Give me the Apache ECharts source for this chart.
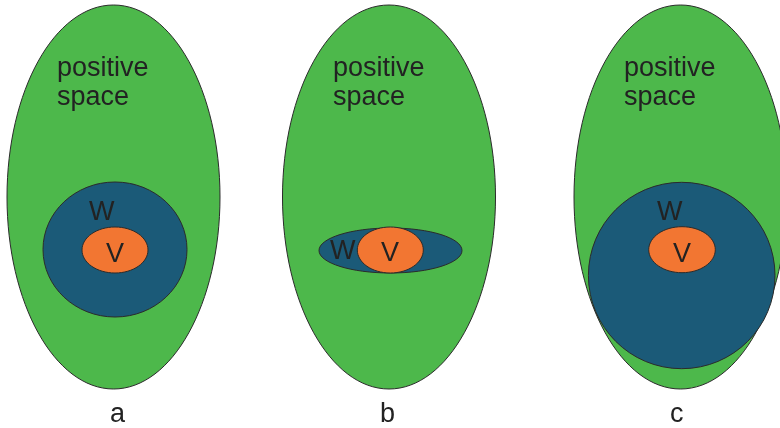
<!DOCTYPE html>
<html>
<head>
<meta charset="utf-8">
<script src="https://cdn.jsdelivr.net/npm/echarts@6/dist/echarts.min.js"></script>
<style>
  html, body { margin: 0; padding: 0; background: #fff; }
  #chart { width: 780px; height: 428px; }
</style>
</head>
<body>
<div id="chart"></div>
<script>
// panels a, b, c
var panelLabels = ['a', 'b', 'c'];
var panelLabelX = [110, 380, 670];
var panelLabelY = [415, 415, 415];

// outer green ellipse (positive space)
var outerCx = [113.5, 389, 680.5];
var outerCy = [197, 197, 197];
var outerRx = [106.5, 106.5, 106.5];
var outerRy = [192, 192, 192];

// W region
var wCx = [115, 390.5, 681.7];
var wCy = [249.5, 250.5, 275.5];
var wRx = [72, 71.5, 93.3];
var wRy = [67.5, 22.5, 93.2];

// V region
var vCx = [115, 390.3, 682];
var vCy = [250, 250, 249.7];
var vRx = [33, 33, 33.3];
var vRy = [23, 23, 23];

// text anchors
var posX = [57, 333, 624];
var posY1 = [69, 69, 69];
var posY2 = [98, 98, 98];
var wLabelX = [89, 330, 657];
var wLabelY = [213, 252, 213];
var vLabelX = [106, 381, 673];
var vLabelY = [255, 254, 255];

var COLORS = {
    green: '#4db84b',
    blue: '#1b5a78',
    orange: '#f27632',
    stroke: '#2b2b2b',
    text: '#222222'
};
var FONT = '27px "Liberation Sans", Arial, sans-serif';

function ellipseData(cx, cy, rx, ry) {
    var d = [];
    for (var i = 0; i < cx.length; i++) d.push([cx[i], cy[i], rx[i], ry[i]]);
    return d;
}
function textData(xs, ys, texts) {
    var d = [];
    for (var i = 0; i < xs.length; i++) d.push([xs[i], ys[i], texts[i]]);
    return d;
}

function makeEllipse(fill, z) {
    return {
        type: 'custom',
        coordinateSystem: 'cartesian2d',
        z: z,
        silent: true,
        renderItem: function (params, api) {
            var c = api.coord([api.value(0), api.value(1)]);
            var s = api.size([api.value(2), api.value(3)]);
            return {
                type: 'ellipse',
                shape: { cx: c[0], cy: c[1], rx: s[0], ry: s[1] },
                style: { fill: fill, stroke: COLORS.stroke, lineWidth: 1 }
            };
        }
    };
}
function makeText(z) {
    return {
        type: 'custom',
        coordinateSystem: 'cartesian2d',
        z: z,
        silent: true,
        renderItem: function (params, api) {
            var c = api.coord([api.value(0), api.value(1)]);
            return {
                type: 'text',
                x: c[0],
                y: c[1],
                style: {
                    text: api.value(2),
                    font: FONT,
                    fill: COLORS.text,
                    align: 'left',
                    verticalAlign: 'middle'
                }
            };
        }
    };
}

var chart = echarts.init(document.getElementById('chart'), null, { renderer: 'canvas' });

var outerSeries = makeEllipse(COLORS.green, 1);
outerSeries.data = ellipseData(outerCx, outerCy, outerRx, outerRy);
var wSeries = makeEllipse(COLORS.blue, 2);
wSeries.data = ellipseData(wCx, wCy, wRx, wRy);
var vSeries = makeEllipse(COLORS.orange, 3);
vSeries.data = ellipseData(vCx, vCy, vRx, vRy);

var posSeries = makeText(4);
posSeries.data = textData(posX, posY1, ['positive', 'positive', 'positive'])
    .concat(textData(posX, posY2, ['space', 'space', 'space']));
var wText = makeText(4);
wText.data = textData(wLabelX, wLabelY, ['W', 'W', 'W']);
var vText = makeText(4);
vText.data = textData(vLabelX, vLabelY, ['V', 'V', 'V']);
var panelText = makeText(4);
panelText.data = textData(panelLabelX, panelLabelY, panelLabels);

chart.setOption({
    animation: false,
    backgroundColor: '#ffffff',
    grid: { left: 0, right: 0, top: 0, bottom: 0 },
    xAxis: { type: 'value', min: 0, max: 780, show: false },
    yAxis: { type: 'value', min: 0, max: 428, inverse: true, show: false },
    series: [outerSeries, wSeries, vSeries, posSeries, wText, vText, panelText]
});
</script>
</body>
</html>
